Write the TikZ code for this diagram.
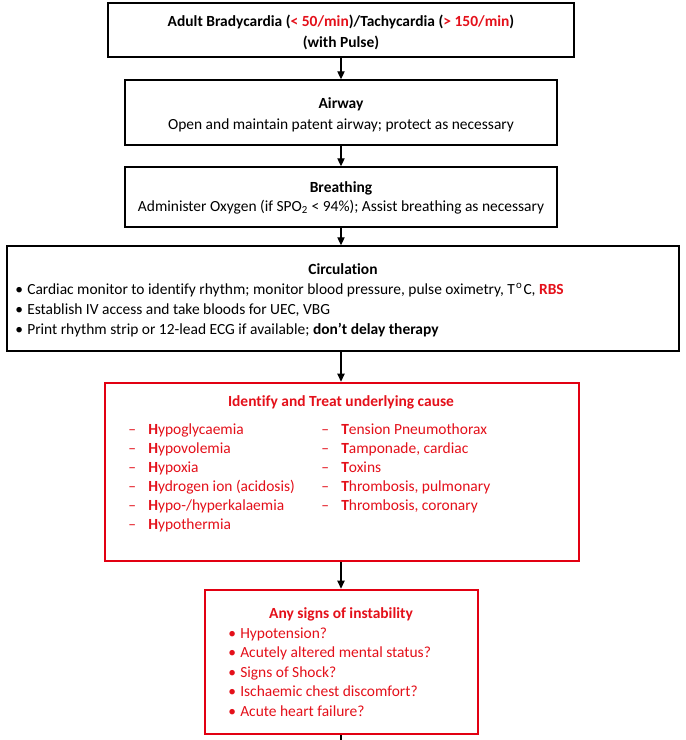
\documentclass[tikz,border=0pt]{standalone}
\usepackage{fontspec}
\setmainfont{Carlito}[Ligatures=NoCommon]
\usetikzlibrary{arrows.meta}
\definecolor{cred}{RGB}{228,16,26}
\definecolor{bred}{RGB}{226,0,18}
\newcommand{\fsz}{\fontsize{11.6}{14}\selectfont}
\begin{document}
\begin{tikzpicture}[x=0.75pt,y=-0.75pt,
  bbox/.style={draw=black,line width=1.1pt,inner sep=0pt,fill=white},
  rbox/.style={draw=bred,line width=2pt,inner sep=0pt,fill=white},
  txt/.style={inner sep=0pt,font=\fsz,anchor=mid},
  btxt/.style={txt,font=\fsz\bfseries},
  ltxt/.style={txt,anchor=mid west},
  rtxt/.style={ltxt,text=cred},
  conn/.style={line width=0.8pt,-{Triangle[length=6pt,width=5.5pt]}}]
\useasboundingbox (0,0) rectangle (686,740);
% boxes
\node[bbox,minimum width=349.5pt,minimum height=40.5pt] (b1) at (341,30) {};
\node[bbox,minimum width=324pt,minimum height=48.75pt] (b2) at (341,112.5) {};
\node[bbox,minimum width=324pt,minimum height=45pt] (b3) at (341,197) {};
\node[bbox,minimum width=504pt,minimum height=78.75pt] (b4) at (343,298.5) {};
\node[rbox,minimum width=355.5pt,minimum height=133.5pt] (b5) at (342,472) {};
\node[rbox,minimum width=204.75pt,minimum height=108pt] (b6) at (341.5,662) {};
\coordinate (bend) at (341,740);
% connectors
\draw[conn] (b1.south -| 341,0) -- (b2.north -| 341,0);
\draw[conn] (b2.south -| 341,0) -- (b3.north -| 341,0);
\draw[conn] (b3.south -| 341,0) -- (b4.north -| 341,0);
\draw[conn] (b4.south -| 341,0) -- (b5.north -| 341,0);
\draw[conn] (b5.south -| 341,0) -- (b6.north -| 341,0);
\draw[line width=0.8pt] (b6.south -| 341,0) -- (bend);
% box 1
\node[btxt] (t1a) at (341,23) {Adult Bradycardia (\textcolor{cred}{< 50/min})/Tachycardia (\textcolor{cred}{> 150/min})};
\node[btxt] (t1b) at (341,44) {(with Pulse)};
% box 2
\node[btxt] (t2a) at (341,105) {Airway};
\node[txt] (t2b) at (341,126) {Open and maintain patent airway; protect as necessary};
% box 3
\node[btxt] (t3a) at (341,189) {Breathing};
\node[txt] (t3b) at (341,208) {Administer Oxygen (if SPO\textsubscript{2} < 94\%); Assist breathing as necessary};
% box 4
\node[btxt] (t4a) at (343,271) {Circulation};
\foreach \i in {0,1,2}{\node[ltxt] (cb\i) at (15,291+20*\i) {•};}
\node[ltxt] (t4b) at (27,291) {Cardiac monitor to identify rhythm; monitor blood pressure, pulse oximetry, T\kern0.8pt\textsuperscript{o}\kern0.8pt C, \textcolor{cred}{\bfseries RBS}};
\node[ltxt] (t4c) at (27,311) {Establish IV access and take bloods for UEC, VBG};
\node[ltxt] (t4d) at (27,331) {Print rhythm strip or 12-lead ECG if available; \textbf{don’t delay therapy}};
% box 5
\node[btxt,text=cred] (t5) at (341,403) {Identify and Treat underlying cause};
\foreach \i/\a/\b in {0/{ypoglycaemia}/{ension Pneumothorax},1/{ypovolemia}/{amponade, cardiac},2/{ypoxia}/{oxins},3/{ydrogen ion (acidosis)}/{hrombosis, pulmonary},4/{ypo-/hyperkalaemia}/{hrombosis, coronary}}{
  \node[rtxt] (hd\i) at (128,431+19*\i) {–};
  \node[rtxt] (h\i) at (148,431+19*\i) {\textbf{H}\a};
  \node[rtxt] (td\i) at (321,431+19*\i) {–};
  \node[rtxt] (t\i) at (341,431+19*\i) {\textbf{T}\b};
}
\node[rtxt] (hd5) at (128,526) {–};
\node[rtxt] (h5) at (148,526) {\textbf{H}ypothermia};
% box 6
\node[btxt,text=cred] (t6) at (341,615) {Any signs of instability};
\foreach \i/\s in {0/{Hypotension?},1/{Acutely altered mental status?},2/{Signs of Shock?},3/{Ischaemic chest discomfort?},4/{Acute heart failure?}}{
  \node[rtxt] (sb\i) at (228,635+19.5*\i) {•};
  \node[rtxt] (s\i) at (240,635+19.5*\i) {\s};
}
\end{tikzpicture}
\end{document}
